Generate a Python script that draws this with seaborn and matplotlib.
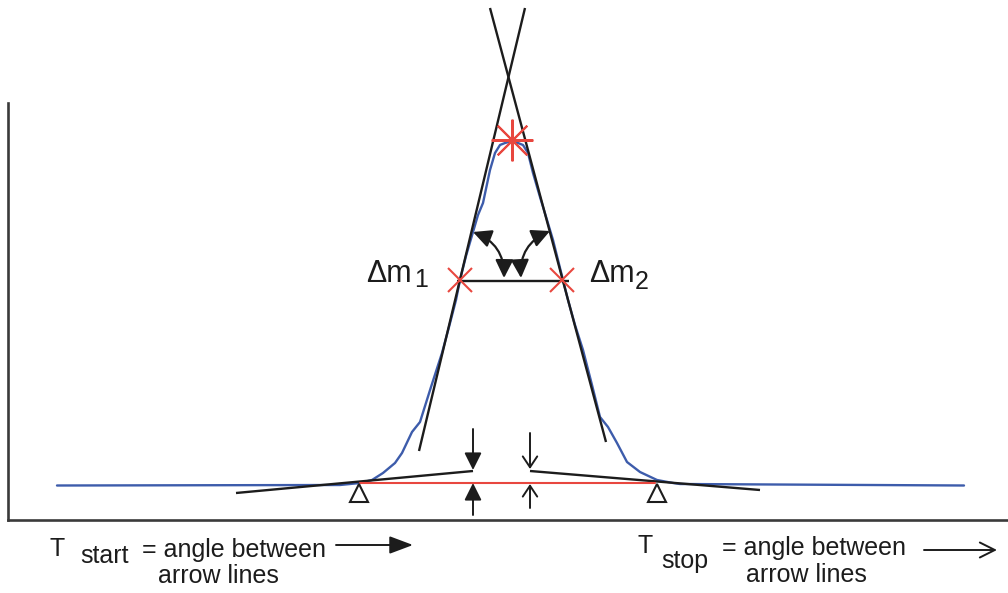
import matplotlib
matplotlib.use("Agg")
import matplotlib.pyplot as plt
from matplotlib.patches import FancyArrowPatch
import pandas as pd
import seaborn as sns

# Measured scan profile (position, signal height above baseline axis)
scan_x = [57, 340, 360, 372, 383, 395, 402, 412, 420, 431, 442, 449, 456, 460, 466,
          473, 478, 483, 490, 495, 500, 505, 512, 518, 523, 528, 533, 540, 547, 553,
          558, 563, 568, 575, 583, 592, 600, 608, 617, 627, 640, 657, 673, 680, 964]
scan_h = [34.5, 35, 37, 40, 47, 57, 67, 88, 98, 133, 167, 193, 220, 240, 264,
          288, 305, 317, 350, 367, 375, 377, 379, 377, 375, 367, 347, 323, 300, 280,
          260, 240, 220, 195, 170, 135, 103, 93, 77, 58, 48, 40, 37, 36, 34.5]

# Construction lines
left_flank_x, left_flank_h = [419, 525], [69, 512]
right_flank_x, right_flank_h = [606, 490], [78, 512]
half_width_x, half_width_h = [457, 569], [239, 239]
base_left_x, base_left_h = [236, 473], [27, 49]
base_right_x, base_right_h = [530, 760], [49, 30]
baseline_x, baseline_h = [360, 655], [37, 37]

# Characteristic points
flank_cross_x, flank_cross_h = [460, 562], [240, 240]
apex_x, apex_h = [512], [380]
onset_x, onset_h = [359, 657], [27.5, 27.5]

sns.set_style("white")
plt.rcParams["font.family"] = ["Liberation Sans", "DejaVu Sans"]

BLUE = "#3d5cab"
RED = "#e8473f"
INK = "#1c1c1c"

fig = plt.figure(figsize=(10.08, 5.93), dpi=100)
ax = fig.add_axes([8 / 1008, 73 / 593, 1000 / 1008, 417 / 593])
ax.set_xlim(8, 1008)
ax.set_ylim(0, 417)
ax.set_xticks([])
ax.set_yticks([])
sns.despine(ax=ax)
for side in ("left", "bottom"):
    ax.spines[side].set_color("#3a3a3a")
    ax.spines[side].set_linewidth(1.9)

# Profile
df = pd.DataFrame({"x": scan_x, "h": scan_h})
sns.lineplot(data=df, x="x", y="h", ax=ax, color=BLUE, lw=1.7, sort=False,
             estimator=None)
ax.set_xlabel("")
ax.set_ylabel("")

# Tangents and reference lines
line_kw = dict(color=INK, lw=1.7, clip_on=False, solid_capstyle="butt")
ax.plot(left_flank_x, left_flank_h, **line_kw)
ax.plot(right_flank_x, right_flank_h, **line_kw)
ax.plot(half_width_x, half_width_h, **line_kw)
ax.plot(base_left_x, base_left_h, **line_kw)
ax.plot(base_right_x, base_right_h, **line_kw)
ax.plot(baseline_x, baseline_h, color=RED, lw=1.5)

# Markers
ax.plot(flank_cross_x, flank_cross_h, ls="none", marker="x", ms=17, mew=1.5,
        color=RED, clip_on=False)
ax.plot(apex_x, apex_h, ls="none", marker=(8, 2, 0), ms=30, mew=1.5,
        color=RED, clip_on=False)
ax.plot(onset_x, onset_h, ls="none", marker="^", ms=13, mew=1.5,
        mfc="white", mec=INK, clip_on=False)

# Curved angle arrows at the half-height line
for (xa, ha), (xb, hb) in [((473, 288), (504, 242)), ((521, 242), (550, 289))]:
    arr = FancyArrowPatch((xa, ha), (xb, hb), connectionstyle="arc3,rad=-0.35",
                          arrowstyle="<|-|>,head_length=0.85,head_width=0.42",
                          mutation_scale=13, lw=1.6, color=INK,
                          shrinkA=0, shrinkB=0)
    ax.add_patch(arr)

# Vertical arrows at the baseline
def v_arrow(x, h_tail, h_head, style):
    ax.annotate("", xy=(x, h_head), xytext=(x, h_tail),
                arrowprops=dict(arrowstyle=style, color=INK, lw=1.4,
                                mutation_scale=13, shrinkA=0, shrinkB=0),
                annotation_clip=False)

v_arrow(473, 91, 50, "-|>,head_length=0.8,head_width=0.4")
v_arrow(473, 5, 37, "-|>,head_length=0.8,head_width=0.4")
v_arrow(530, 87, 51, "->,head_length=0.6,head_width=0.4")
v_arrow(530, 12, 36, "->,head_length=0.6,head_width=0.4")

# Labels for the flank points
lab_kw = dict(color=INK, ha="left", va="baseline", clip_on=False)
ax.text(366, 238, "Δm", fontsize=22, **lab_kw)
ax.text(414, 233, "1", fontsize=18, **lab_kw)
ax.text(589, 238, "Δm", fontsize=22, **lab_kw)
ax.text(635, 231, "2", fontsize=18, **lab_kw)

# Explanatory text below the axis
txt_kw = dict(color=INK, ha="left", va="baseline", fontsize=18, clip_on=False)
ax.text(50, -36, "T", **txt_kw)
ax.text(80, -43, "start", **txt_kw)
ax.text(142, -37, "= angle between", **txt_kw)
ax.text(158, -63, "arrow lines", **txt_kw)
ax.text(638, -33, "T", **txt_kw)
ax.text(661, -48, "stop", **txt_kw)
ax.text(722, -35, "= angle between", **txt_kw)
ax.text(746, -62, "arrow lines", **txt_kw)

ax.annotate("", xy=(413, -25), xytext=(336, -25),
            arrowprops=dict(arrowstyle="-|>,head_length=0.8,head_width=0.3",
                            color=INK, lw=1.4, mutation_scale=18,
                            shrinkA=0, shrinkB=0),
            annotation_clip=False)
ax.annotate("", xy=(997, -30), xytext=(924, -30),
            arrowprops=dict(arrowstyle="->,head_length=0.6,head_width=0.3",
                            color=INK, lw=1.4, mutation_scale=18,
                            shrinkA=0, shrinkB=0),
            annotation_clip=False)

fig.savefig("out.png", dpi=100)
